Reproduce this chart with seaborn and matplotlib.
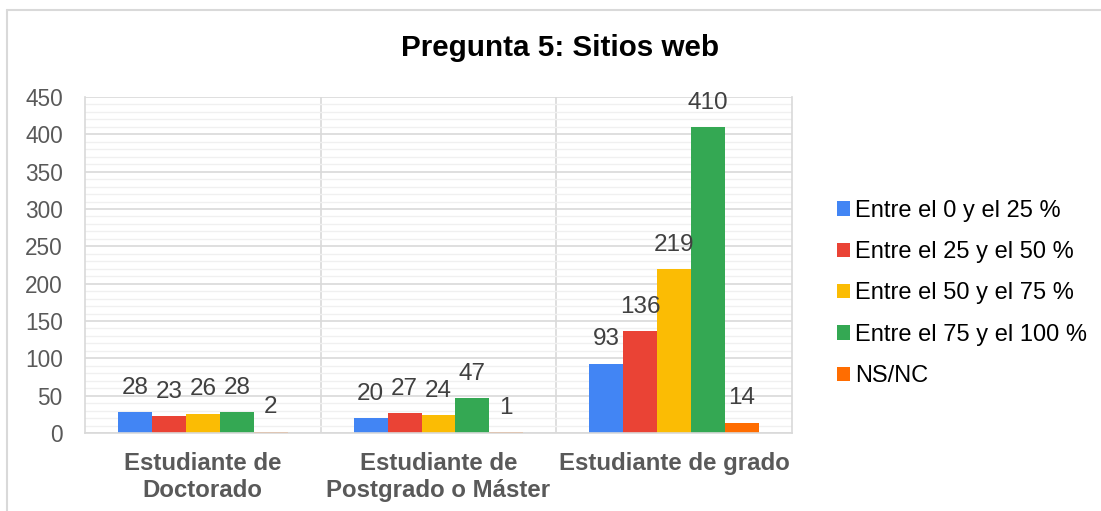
import matplotlib
matplotlib.use("Agg")
import matplotlib.pyplot as plt
import seaborn as sns
import pandas as pd
import numpy as np
from matplotlib.lines import Line2D
from matplotlib.patches import Patch

categories = ["Estudiante de\nDoctorado", "Estudiante de\nPostgrado o Máster", "Estudiante de grado"]
series = ["Entre el 0 y el 25 %", "Entre el 25 y el 50 %", "Entre el 50 y el 75 %",
          "Entre el 75 y el 100 %", "NS/NC"]
values = {
    "Entre el 0 y el 25 %": [28, 20, 93],
    "Entre el 25 y el 50 %": [23, 27, 136],
    "Entre el 50 y el 75 %": [26, 24, 219],
    "Entre el 75 y el 100 %": [28, 47, 410],
    "NS/NC": [2, 1, 14],
}
colors = ["#4285F4", "#EA4335", "#FBBC04", "#34A853", "#FF6D01"]
title = "Pregunta 5: Sitios web"

rows = []
for s in series:
    for c, v in zip(categories, values[s]):
        rows.append({"cat": c, "serie": s, "val": v})
df = pd.DataFrame(rows)

sns.set_theme(style="white")
plt.rcParams["font.family"] = ["Liberation Sans", "DejaVu Sans"]

fig = plt.figure(figsize=(11.01, 5.11), dpi=100)
ax = fig.add_axes([85/1101, 1-433/511, (792-85)/1101, (433-97)/511])

sns.barplot(data=df, x="cat", y="val", hue="serie", order=categories, hue_order=series,
            palette=colors, width=0.72, ax=ax, legend=False, saturation=1, edgecolor="none")

ax.set_ylim(0, 450)
ax.set_xlim(-0.5, 2.5)
ax.set_yticks(np.arange(0, 451, 50))
ax.set_yticks(np.arange(0, 451, 10), minor=True)
ax.grid(True, which="major", axis="y", color="#D9D9D9", lw=1.2)
ax.grid(True, which="minor", axis="y", color="#F0F0F0", lw=1.0)
ax.set_axisbelow(True)
for xb in [0.5, 1.5]:
    ax.axvline(xb, color="#D9D9D9", lw=1.2, zorder=0)
for sp in ["left", "right", "bottom"]:
    ax.spines[sp].set_visible(True)
    ax.spines[sp].set_color("#D9D9D9")
    ax.spines[sp].set_linewidth(1.2)
ax.spines["top"].set_visible(False)
ax.tick_params(axis="y", which="both", length=0, pad=16, labelsize=16.3, labelcolor="#595959")
ax.tick_params(axis="x", length=0, pad=14)
for lbl in ax.get_xticklabels():
    lbl.set_fontsize(17.3)
    lbl.set_fontweight("bold")
    lbl.set_color("#595959")
    lbl.set_linespacing(1.2)
ax.set_xlabel("")
ax.set_ylabel("")

for cont in ax.containers:
    for bar in cont:
        h = bar.get_height()
        ax.annotate(f"{int(round(h))}", (bar.get_x() + bar.get_width()/2, h),
                    xytext=(0, 17.5), textcoords="offset points", ha="center", va="center",
                    fontsize=17.5, color="#404040")

fig.text(560/1101, 1-48/511, title, ha="center", va="center", fontsize=21.3,
         fontweight="bold", color="black")

handles = [Patch(facecolor=c, edgecolor="none") for c in colors]
leg = fig.legend(handles, series, loc="center left", bbox_to_anchor=(828/1101, 1-293.5/511),
                 frameon=False, fontsize=17, handlelength=0.55, handleheight=0.55,
                 handletextpad=0.2, labelspacing=0.82, borderaxespad=0)
for t in leg.get_texts():
    t.set_color("black")

# outer chart border
fig.add_artist(Line2D([7/1101, 7/1101], [0, 1-10/511], transform=fig.transFigure,
                      color="#D9D9D9", lw=1.5))
fig.add_artist(Line2D([7/1101, 1], [1-10/511, 1-10/511], transform=fig.transFigure,
                      color="#D9D9D9", lw=1.5))

fig.savefig("out.png", dpi=100)
